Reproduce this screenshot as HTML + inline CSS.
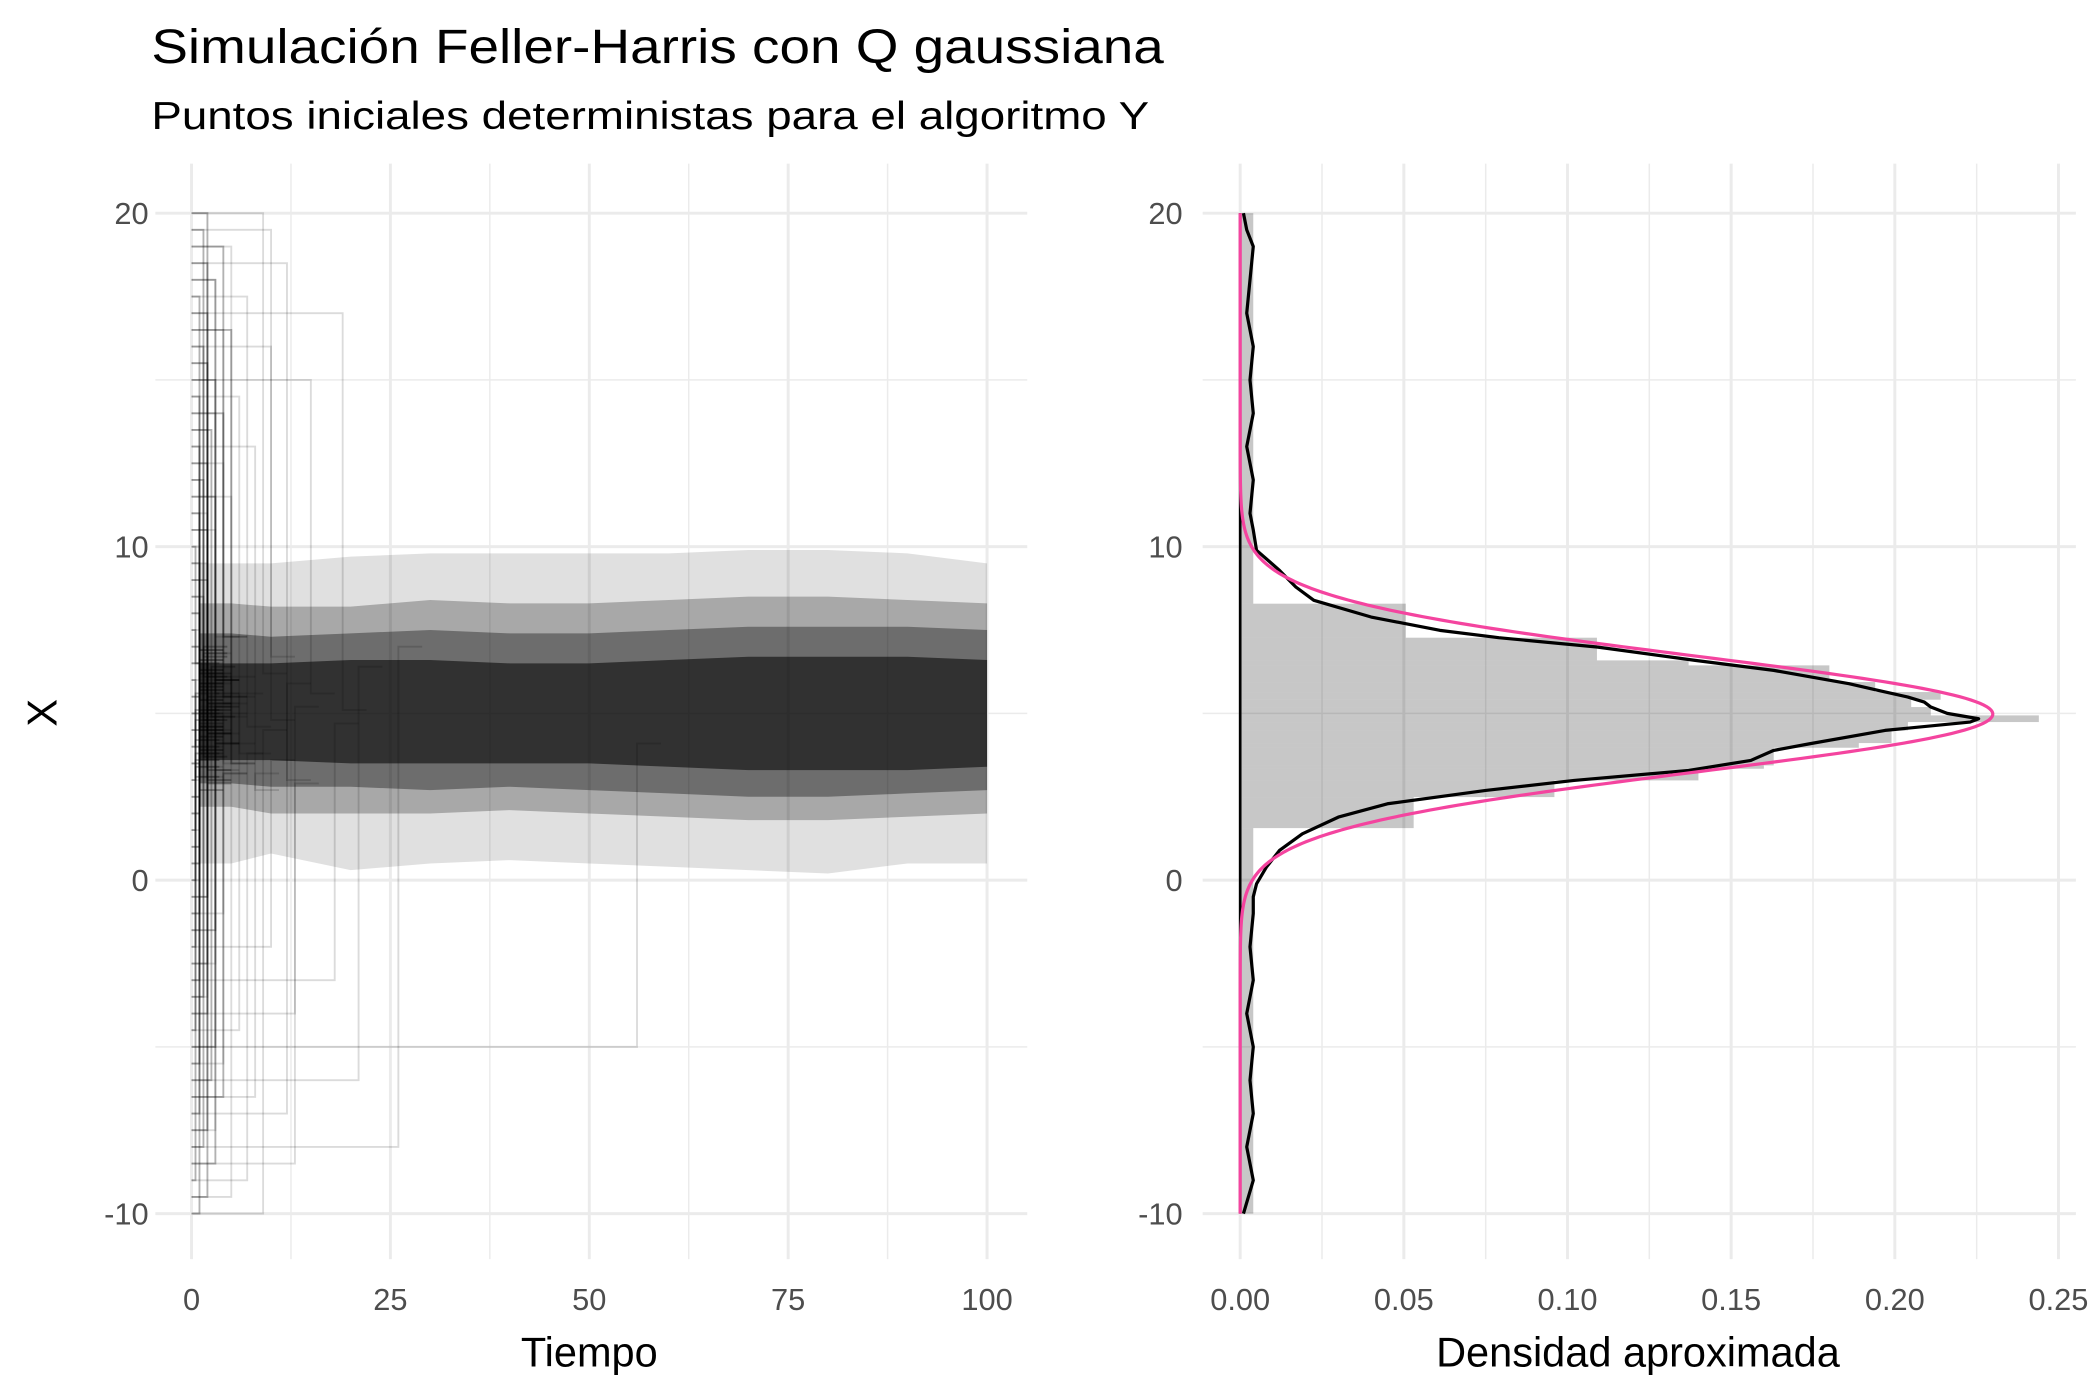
<!DOCTYPE html>
<html><head><meta charset="utf-8">
<style>html,body{margin:0;padding:0;background:#fff}svg{display:block}text{font-family:"Liberation Sans",Arial,sans-serif}</style>
</head><body>
<svg id="chart" width="2100" height="1400" viewBox="0 0 1568 1045" xmlns="http://www.w3.org/2000/svg">
<rect width="1568" height="1045" fill="#fff"/>
<text x="113" y="47" font-size="36" textLength="756" lengthAdjust="spacingAndGlyphs" fill="#000">Simulación Feller-Harris con Q gaussiana</text>
<text x="113" y="96" font-size="29" textLength="745" lengthAdjust="spacingAndGlyphs" fill="#000">Puntos iniciales deterministas para el algoritmo Y</text>
<g id="left"></g>
<g id="right"></g>
<text x="440" y="1020" font-size="31" text-anchor="middle">Tiempo</text>
<text x="1223" y="1020" font-size="31" text-anchor="middle">Densidad aproximada</text>
<text x="0" y="0" font-size="31" text-anchor="middle" transform="translate(42,532) rotate(-90)">X</text>
</svg>
<script>
// ---- data ----
const xTicksLeft = [0, 25, 50, 75, 100];
const xTickLabelsLeft = ["0", "25", "50", "75", "100"];
const yTicks = [-10, 0, 10, 20];
const yTickLabels = ["-10", "0", "10", "20"];
const xTicksRight = [0, 0.05, 0.10, 0.15, 0.20, 0.25];
const xTickLabelsRight = ["0.00", "0.05", "0.10", "0.15", "0.20", "0.25"];

const startValues = [-10,-9.5,-9,-8.5,-8,-7.5,-7,-6.5,-6,-5.5,-5,-4.5,-4,-3.5,-3,-2.5,-2,-1.5,-1,-0.5,0,0.5,1,1.5,2,2.5,3,3.5,4,4.5,5,5.5,6,6.5,7,7.5,8,8.5,9,9.5,10,10.5,11,11.5,12,12.5,13,13.5,14,14.5,15,15.5,16,16.5,17,17.5,18,18.5,19,19.5,20];
const jumpTimes = [9,5,7,13,26,3,12,8,21,4,56,6,13,2,18,3,10,1,4,2,1,1,1,1,1,1,1,1,1,1,1,1,1,1,1,1,1,1,1,2,1,3,2,5,1,4,8,2,3,6,15,2,10,4,19,7,3,12,5,10,9];
const earlyJumpTimes = [1,2,0.5,3,1.5,2,1,4,2.5,1,3,0.5,2,1.5,1,2,0.5,3,1,2,0.5,1,1,0.5,1,1,0.5,1,0.5,1,0.5,1,0.5,1,1,0.5,1,1.5,2,1,0.5,2,1,3,1.5,2,1,2.5,4,1,3,2,1.5,5,2,1,3,2,4,1.5,2];
const jumpTargets = [4.5,6.1,3.8,5.2,7.0,4.4,5.9,3.2,6.4,5.0,4.1,5.6,2.9,6.8,4.7,5.3,3.6,6.0,4.9,5.5,4.2,6.3,3.9,5.1,4.6,5.8,3.4,6.6,4.8,5.4,4.0,5.7,3.1,6.2,4.3,5.0,6.9,3.7,5.2,4.5,6.5,3.3,5.9,4.1,6.1,5.3,2.7,4.9,7.3,3.8,5.6,4.4,6.7,3.5,5.1,4.6,6.0,3.0,5.5,4.8,6.2];

const bandTime = [1,5,10,20,30,40,50,60,70,80,90,100];
const outerLo = [0.5,0.5,0.8,0.3,0.5,0.6,0.5,0.4,0.3,0.2,0.5,0.5];
const outerHi = [9.5,9.5,9.5,9.7,9.8,9.8,9.8,9.8,9.9,9.9,9.8,9.5];
const midLo = [2.2,2.2,2.0,2.0,2.0,2.1,2.0,1.9,1.8,1.8,1.9,2.0];
const midHi = [8.3,8.3,8.2,8.2,8.4,8.3,8.3,8.4,8.5,8.5,8.4,8.3];
const innerLo = [2.9,2.9,2.8,2.8,2.7,2.8,2.7,2.6,2.5,2.5,2.6,2.7];
const innerHi = [7.4,7.4,7.3,7.4,7.5,7.4,7.4,7.5,7.6,7.6,7.6,7.5];
const coreLo = [3.6,3.6,3.6,3.5,3.5,3.5,3.5,3.4,3.3,3.3,3.3,3.4];
const coreHi = [6.5,6.5,6.5,6.6,6.6,6.5,6.5,6.6,6.7,6.7,6.7,6.6];

const binLo = [-10,1.56,2.49,2.99,3.34,3.44,3.97,4.11,4.49,4.74,4.94,5.19,5.41,5.64,5.94,6.44,6.59,7.27,8.29];
const binHi = [1.56,2.49,2.99,3.34,3.44,3.97,4.11,4.49,4.74,4.94,5.19,5.41,5.64,5.94,6.44,6.59,7.27,8.29,20];
const binDensity = [0.004,0.053,0.096,0.140,0.160,0.163,0.189,0.199,0.204,0.244,0.211,0.205,0.214,0.194,0.180,0.137,0.109,0.0506,0.004];

const kdeX = [-10,-9,-8,-7,-6,-5,-4,-3,-2,-1,-0.5,-0.11,0.39,0.89,1.39,1.89,2.29,2.69,2.99,3.29,3.59,3.89,4.09,4.49,4.74,4.84,5.0,5.19,5.34,5.49,5.69,5.89,6.29,6.59,6.99,7.27,7.49,7.89,8.39,8.79,9.29,9.89,10.5,11,12,13,14,15,16,17,18,19,19.5,20];
const kdeD = [0.001,0.004,0.002,0.004,0.003,0.004,0.002,0.004,0.003,0.004,0.004,0.005,0.008,0.012,0.019,0.030,0.045,0.075,0.102,0.137,0.156,0.163,0.174,0.197,0.223,0.2256,0.216,0.211,0.209,0.204,0.195,0.186,0.163,0.139,0.109,0.079,0.061,0.040,0.0225,0.017,0.012,0.005,0.004,0.003,0.004,0.002,0.004,0.003,0.004,0.002,0.003,0.004,0.002,0.001];

const normMean = 4.98;
const normSd = 1.735;

// ---- scales ----
const NS = "http://www.w3.org/2000/svg";
const yTop = 159, yBot = 906;
function yS(v){ return yBot + (v - (-10)) / 30 * (yTop - yBot); }
function xL(t){ return 143 + t / 100 * (737 - 143); }
function xR(d){ return 926 + d / 0.25 * (1537 - 926); }
function mk(tag, attrs, parent){ const e = document.createElementNS(NS, tag); for (const k in attrs) e.setAttribute(k, attrs[k]); parent.appendChild(e); return e; }

const L = document.getElementById('left');
const R = document.getElementById('right');

function grid(parent, x0, x1, xMajor, xMinor, xs){
  [-5,5,15].forEach(v=>{ const g = mk('line',{x1:x0,x2:x1,y1:yS(v),y2:yS(v),stroke:'#ebebeb','stroke-width':1.1},parent);
    
     });
  xMinor.forEach(v=>{ const g = mk('line',{x1:xs(v),x2:xs(v),y1:122,y2:940,stroke:'#ebebeb','stroke-width':1.1},parent);
    
     });
  yTicks.forEach(v=>{ const g = mk('line',{x1:x0,x2:x1,y1:yS(v),y2:yS(v),stroke:'#ebebeb','stroke-width':2.2},parent);
    
     });
  xMajor.forEach(v=>{ const g = mk('line',{x1:xs(v),x2:xs(v),y1:122,y2:940,stroke:'#ebebeb','stroke-width':2.2},parent);
    
     });
}
grid(L, 116, 767, xTicksLeft, [12.5,37.5,62.5,87.5], xL);
grid(R, 898, 1550, xTicksRight, [0.025,0.075,0.125,0.175,0.225], xR);

function yLabels(parent, x){
  yTicks.forEach((v,i)=>{ const t = mk('text',{x:x,y:yS(v)+8,'font-size':23,'text-anchor':'end',fill:'#4d4d4d'},parent);
    t.textContent = yTickLabels[i];
    
     });
}
yLabels(L, 111); yLabels(R, 883);
xTicksLeft.forEach((v,i)=>{ const t = mk('text',{x:xL(v),y:978,'font-size':23,'text-anchor':'middle',fill:'#4d4d4d'},L);
  t.textContent = xTickLabelsLeft[i];
  
   });
xTicksRight.forEach((v,i)=>{ const t = mk('text',{x:xR(v),y:978,'font-size':23,'text-anchor':'middle',fill:'#4d4d4d'},R);
  t.textContent = xTickLabelsRight[i];
  
   });

function band(lo, hi, op, name){
  let d = 'M' + bandTime.map((t,i)=>xL(t)+','+yS(hi[i])).join('L');
  for (let i = bandTime.length-1; i >= 0; i--) d += 'L' + xL(bandTime[i]) + ',' + yS(lo[i]);
  const p = mk('path',{d:d+'Z',fill:'#000','fill-opacity':op},L);
  
  
}
band(outerLo, outerHi, 0.12, 'trajectory-band-outer');
band(midLo, midHi, 0.25, 'trajectory-band-mid');
band(innerLo, innerHi, 0.35, 'trajectory-band-inner');
band(coreLo, coreHi, 0.55, 'trajectory-band-core');

function paths(times, op){
  startValues.forEach((s,i)=>{
    const tj = times[i], tg = jumpTargets[i];
    const d = 'M'+xL(0)+','+yS(s)+'L'+xL(tj)+','+yS(s)+'L'+xL(tj)+','+yS(tg)+'L'+xL(Math.min(tj+3,100))+','+yS(tg);
    const p = mk('path',{d:d,fill:'none',stroke:'#000','stroke-opacity':op,'stroke-width':1.4},L);
    
    
  });
}
paths(jumpTimes, 0.14);
paths(earlyJumpTimes, 0.3);

binLo.forEach((lo,i)=>{
  const r = mk('rect',{x:xR(0),y:yS(binHi[i]),width:xR(binDensity[i])-xR(0),height:yS(lo)-yS(binHi[i]),fill:'#000','fill-opacity':0.22},R);
  
  
});
const zl = mk('line',{x1:xR(0),x2:xR(0),y1:yS(-10),y2:yS(20),stroke:'#000','stroke-width':2},R);


const kd = 'M' + kdeX.map((x,i)=>xR(kdeD[i])+','+yS(x)).join('L');
const kp = mk('path',{d:kd,fill:'none',stroke:'#000','stroke-width':2.4,'stroke-linejoin':'round'},R);


let nd = '';
for (let k = 0; k <= 600; k++){ const x = -10 + k*30/600; const f = Math.exp(-0.5*((x-normMean)/normSd)**2)/(normSd*Math.sqrt(2*Math.PI)); nd += (k?'L':'M') + xR(f) + ',' + yS(x); }
const np = mk('path',{d:nd,fill:'none',stroke:'#f4449f','stroke-width':2.4},R);


</script>
</body></html>
